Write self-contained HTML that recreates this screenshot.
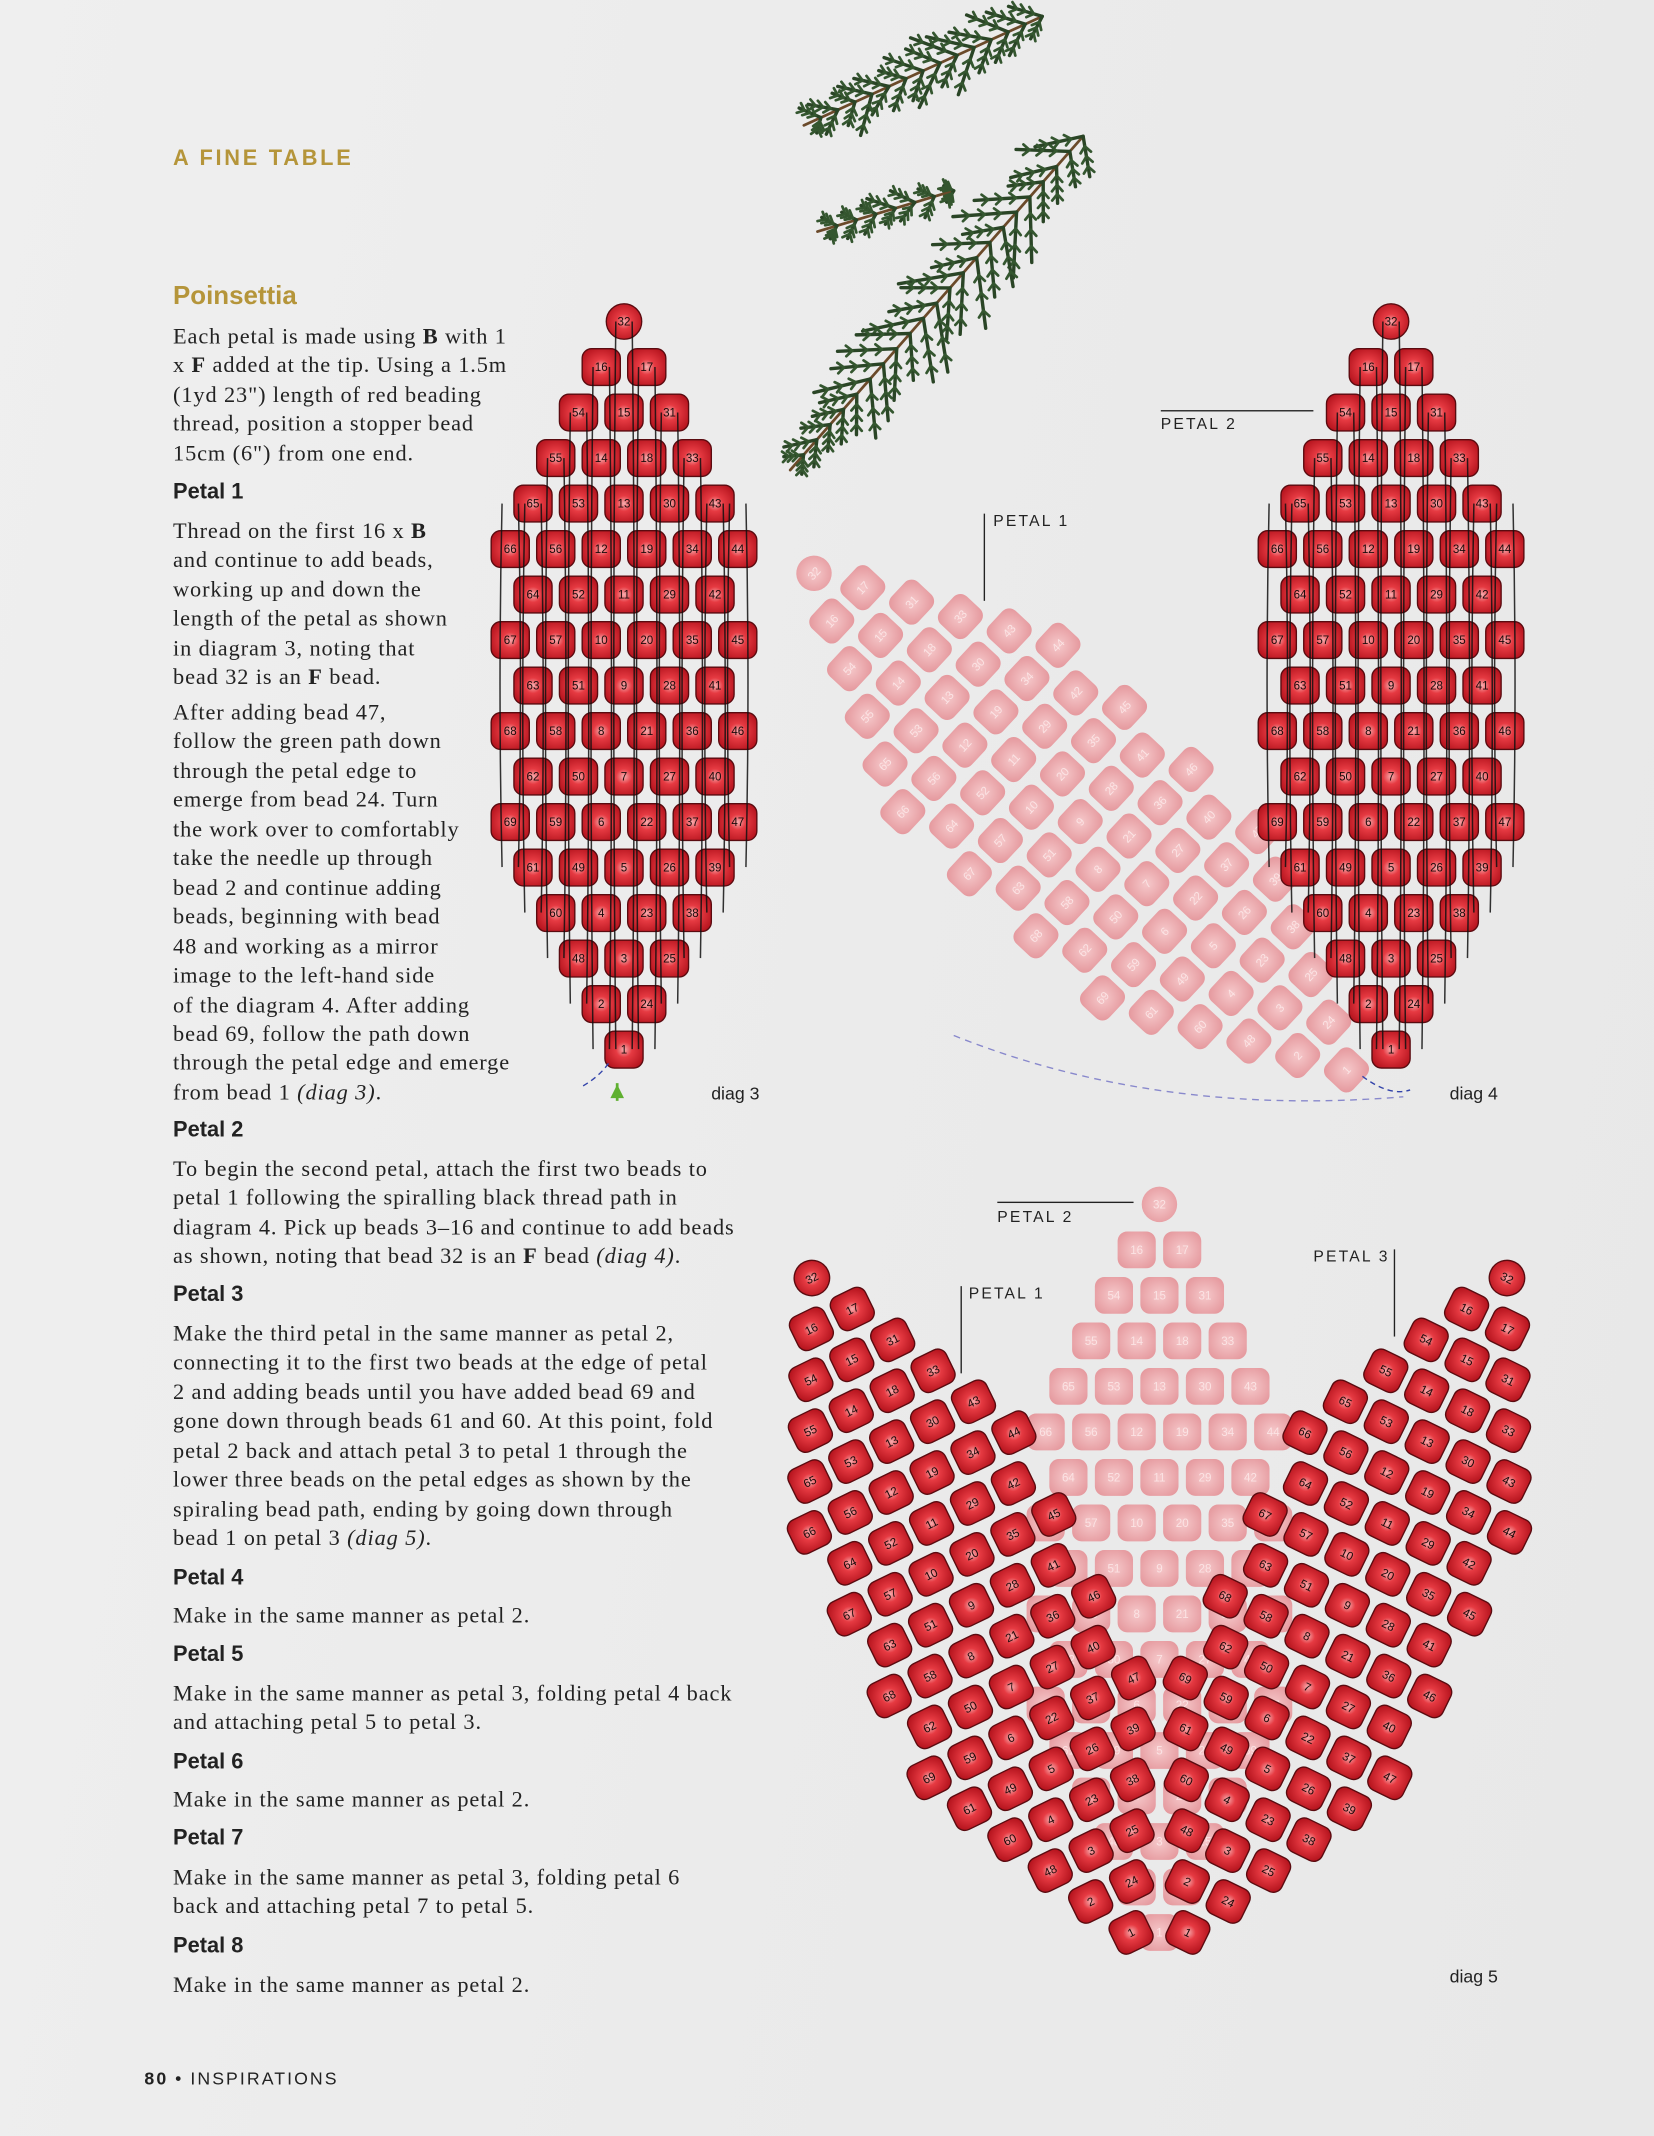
<!DOCTYPE html>
<html><head><meta charset="utf-8">
<style>
html,body{margin:0;padding:0;}
body{width:1654px;height:2136px;overflow:hidden;background:#ededed;}
#pg{position:absolute;left:0;top:0;width:1214px;height:1568px;transform:scale(1.36244);transform-origin:0 0;
background:linear-gradient(100deg,#efefef 0%,#ebebeb 50%,#e8e8e8 100%);font-family:"Liberation Serif",serif;color:#222;}
.t{position:absolute;left:127px;font-size:16.4px;letter-spacing:0.65px;line-height:21.45px;white-space:nowrap;}
.h{position:absolute;left:127px;font-family:"Liberation Sans",sans-serif;font-weight:bold;font-size:16px;color:#222;}
.lab{position:absolute;font-family:"Liberation Sans",sans-serif;font-size:11.5px;letter-spacing:1.6px;color:#222;}
.dg{position:absolute;font-family:"Liberation Sans",sans-serif;font-size:13px;color:#222;}
svg{position:absolute;left:0;top:0;}
</style></head><body>
<div id="pg">
<svg id="sv" width="1214" height="1568" viewBox="0 0 1214 1568">
<defs>
<radialGradient id="rg" cx="50%" cy="50%" r="60%"><stop offset="0" stop-color="#f6aeb0"/><stop offset="0.35" stop-color="#e63a42"/><stop offset="1" stop-color="#b3121c"/></radialGradient>
<radialGradient id="pg2" cx="50%" cy="50%" r="60%"><stop offset="0" stop-color="#f6c9cb"/><stop offset="1" stop-color="#e5999e"/></radialGradient>
</defs>
<g id="sprig" stroke="#2f4d2c" fill="none" stroke-linecap="round"></g>
<g id="beads"></g>
<path d="M428,797 Q440,790 447,780" stroke="#3344aa" stroke-dasharray="4,3" fill="none"/>
<path d="M453,795 L453,808" stroke="#5fb030" stroke-width="2"/>
<polygon points="448,806 453,796 458,806" fill="#5fb030"/>
<path d="M700,760 Q850,820 1030,805" stroke="#8888cc" stroke-dasharray="5,4" fill="none"/>
<path d="M1000,790 Q1020,805 1035,800" stroke="#3344aa" stroke-dasharray="4,3" fill="none"/>
</svg>

<div style="position:absolute;left:127px;top:108px;font-family:'Liberation Sans',sans-serif;font-weight:bold;font-size:16px;letter-spacing:2px;color:#b5953a;">A FINE TABLE</div>
<div style="position:absolute;left:127px;top:207px;font-family:'Liberation Sans',sans-serif;font-weight:bold;font-size:19px;color:#b5953a;">Poinsettia</div>

<div class="t" style="top:236px">Each petal is made using <b>B</b> with 1<br>x <b>F</b> added at the tip. Using a 1.5m<br>(1yd 23") length of red beading<br>thread, position a stopper bead<br>15cm (6") from one end.</div>
<div class="h" style="top:353px">Petal 1</div>
<div class="t" style="top:379px">Thread on the first 16 x <b>B</b><br>and continue to add beads,<br>working up and down the<br>length of the petal as shown<br>in diagram 3, noting that<br>bead 32 is an <b>F</b> bead.</div>
<div class="t" style="top:512px">After adding bead 47,<br>follow the green path down<br>through the petal edge to<br>emerge from bead 24. Turn<br>the work over to comfortably<br>take the needle up through<br>bead 2 and continue adding<br>beads, beginning with bead<br>48 and working as a mirror<br>image to the left-hand side<br>of the diagram 4. After adding<br>bead 69, follow the path down<br>through the petal edge and emerge<br>from bead 1 <i>(diag 3)</i>.</div>
<div class="h" style="top:821px">Petal 2</div>
<div class="t" style="top:847px">To begin the second petal, attach the first two beads to<br>petal 1 following the spiralling black thread path in<br>diagram 4. Pick up beads 3–16 and continue to add beads<br>as shown, noting that bead 32 is an <b>F</b> bead <i>(diag 4)</i>.</div>
<div class="h" style="top:942px">Petal 3</div>
<div class="t" style="top:968px">Make the third petal in the same manner as petal 2,<br>connecting it to the first two beads at the edge of petal<br>2 and adding beads until you have added bead 69 and<br>gone down through beads 61 and 60. At this point, fold<br>petal 2 back and attach petal 3 to petal 1 through the<br>lower three beads on the petal edges as shown by the<br>spiraling bead path, ending by going down through<br>bead 1 on petal 3 <i>(diag 5)</i>.</div>
<div class="h" style="top:1150px">Petal 4</div>
<div class="t" style="top:1175px">Make in the same manner as petal 2.</div>
<div class="h" style="top:1206px">Petal 5</div>
<div class="t" style="top:1232px">Make in the same manner as petal 3, folding petal 4 back<br>and attaching petal 5 to petal 3.</div>
<div class="h" style="top:1285px">Petal 6</div>
<div class="t" style="top:1310px">Make in the same manner as petal 2.</div>
<div class="h" style="top:1341px">Petal 7</div>
<div class="t" style="top:1367px">Make in the same manner as petal 3, folding petal 6<br>back and attaching petal 7 to petal 5.</div>
<div class="h" style="top:1420px">Petal 8</div>
<div class="t" style="top:1446px">Make in the same manner as petal 2.</div>

<div style="position:absolute;left:106px;top:1518px;font-family:'Liberation Sans',sans-serif;font-size:13px;letter-spacing:1.5px;color:#222;"><b>80</b> • INSPIRATIONS</div>

<div class="dg" style="left:522px;top:795px">diag 3</div>
<div class="dg" style="left:1064px;top:795px">diag 4</div>
<div class="dg" style="left:1064px;top:1443px">diag 5</div>

<div class="lab" style="left:852px;top:306px">PETAL 2</div>
<div style="position:absolute;left:852px;top:301px;width:112px;height:1px;background:#222"></div>
<div class="lab" style="left:729px;top:377px">PETAL 1</div>
<div style="position:absolute;left:722px;top:377px;width:1px;height:64px;background:#222"></div>
<div class="lab" style="left:732px;top:888px">PETAL 2</div>
<div style="position:absolute;left:732px;top:882px;width:100px;height:1px;background:#222"></div>
<div class="lab" style="left:711px;top:944px">PETAL 1</div>
<div style="position:absolute;left:705px;top:944px;width:1px;height:64px;background:#222"></div>
<div class="lab" style="left:964px;top:917px">PETAL 3</div>
<div style="position:absolute;left:1023px;top:917px;width:1px;height:64px;background:#222"></div>
</div>
<script>
var NS="http://www.w3.org/2000/svg";
var rows=[[32],[16,17],[54,15,31],[55,14,18,33],[65,53,13,30,43],[66,56,12,19,34,44],[64,52,11,29,42],[67,57,10,20,35,45],[63,51,9,28,41],[68,58,8,21,36,46],[62,50,7,27,40],[69,59,6,22,37,47],[61,49,5,26,39],[60,4,23,38],[48,3,25],[2,24],[1]];
var S=33.4;
function el(t,a,p){var e=document.createElementNS(NS,t);for(var k in a)e.setAttribute(k,a[k]);p.appendChild(e);return e;}
var B=document.getElementById("beads");
function petal(x1,y1,ang,red,threads){
 var g=el("g",{transform:"translate("+x1+","+y1+") rotate("+ang+")"},B);
 for(var i=0;i<rows.length;i++){var r=rows[i],n=r.length,y=-534+i*S;
  for(var j=0;j<n;j++){var x=(j-(n-1)/2)*S;
   var bg=el("g",{transform:"translate("+x+","+y+")"},g);
   var w=28,h=27,rx=(r[j]==32)?14:7;
   if(r[j]==32){w=26;h=26;}
   el("rect",{x:-w/2,y:-h/2,width:w,height:h,rx:rx,fill:red?"url(#rg)":"url(#pg2)",stroke:red?"#5a0b10":"none","stroke-width":1},bg);
   var tx=el("text",{x:0,y:3,"text-anchor":"middle","font-size":8.5,"font-family":"Liberation Sans, sans-serif",fill:red?"#1a0a0a":"#fbe3e4"},bg);
   tx.textContent=r[j];
  }
 }
 if(threads){
  for(var c=-5;c<=5;c++){var x=c*S/2;
   var top=-534+Math.abs(c)*S+(Math.abs(c)>=5?-S:0);
   var bot=-Math.max(0,Math.abs(c)-1)*S;
   el("path",{d:"M"+(x-6)+","+top+" Q"+(x-9)+","+((top+bot)/2)+" "+(x-6)+","+bot,stroke:"#111","stroke-width":1.1,fill:"none","opacity":0.85},g);
   el("path",{d:"M"+(x+6)+","+top+" Q"+(x+9)+","+((top+bot)/2)+" "+(x+6)+","+bot,stroke:"#111","stroke-width":1.1,fill:"none","opacity":0.85},g);
  }
 }
}
petal(458,770,0,true,true);
petal(988,785,-47,false,false);
petal(1021,770,0,true,true);
petal(851,1418,0,false,false);
petal(830,1418,-26,true,false);
petal(872,1418,26,true,false);
var G=document.getElementById("sprig");
function stem(pts,col){var d="M"+pts[0];for(var i=1;i<pts.length;i++)d+=" L"+pts[i];el("path",{d:d,stroke:col||"#3a4a2a","stroke-width":2},G);}
var seed=3;function rnd(){seed=(seed*9301+49297)%233280;return seed/233280;}
function branch(x0,y0,x1,y1,len,n){
 stem([x0+","+y0,x1+","+y1],"#6b4a2a");
 for(var i=0;i<n;i++){var t=i/n,x=x0+(x1-x0)*t,y=y0+(y1-y0)*t;
  for(var s=-1;s<=1;s+=2){var L=len*(0.4+0.6*Math.sin(Math.PI*(0.15+0.85*t)))*(0.6+0.5*rnd());
   var ang=Math.atan2(y1-y0,x1-x0)+s*(0.6+0.3*rnd());
   var ex=x+Math.cos(ang)*L,ey=y+Math.sin(ang)*L;
   el("path",{d:"M"+x+","+y+" L"+ex+","+ey,stroke:"#2a4526","stroke-width":2.5},G);
   for(var k=1;k<4;k++){var px=x+(ex-x)*k/4,py=y+(ey-y)*k/4;
    for(var q=-1;q<=1;q+=2){var a2=ang+q*0.7;
    el("path",{d:"M"+px+","+py+" l"+Math.cos(a2)*6+","+Math.sin(a2)*6,stroke:"#34562f","stroke-width":2},G);}}
  }}
}
branch(765,12,590,92,36,14);
branch(795,100,580,345,50,22);
branch(700,140,600,170,20,7);
</script>
</body></html>
